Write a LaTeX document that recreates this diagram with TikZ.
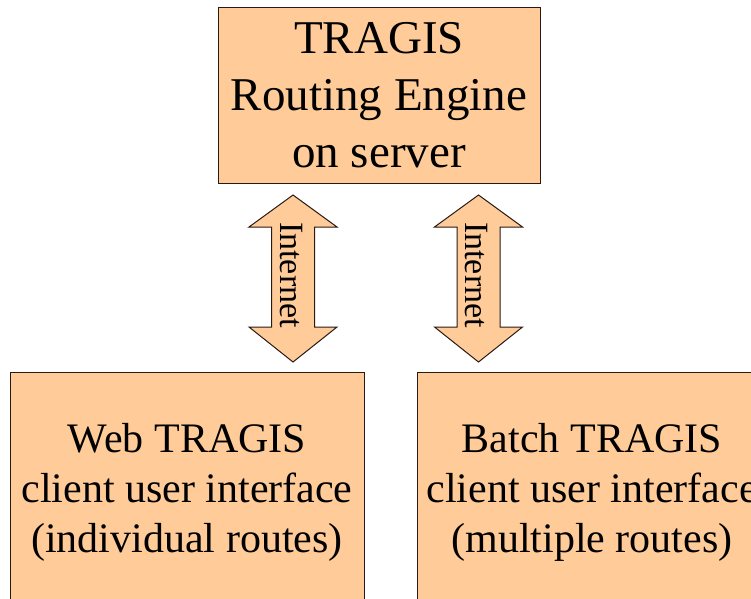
\documentclass[tikz,border=0pt]{standalone}
\usepackage{fontspec}
\setmainfont{Liberation Serif}
\definecolor{peach}{HTML}{FFCC99}
\definecolor{edge}{HTML}{2A1A14}
\tikzset{
  box/.style={draw=edge, line width=1pt, fill=peach, inner sep=0pt, align=center, text=black},
  arrowfill/.style={draw=edge, line width=1pt, fill=peach, line join=miter},
  arrowtext/.style={inner sep=0pt, rotate=-90, font=\fontsize{34}{40}\selectfont},
  internetarrow/.pic={
    \draw[arrowfill] (0,0) -- (44,-32) -- (21.5,-32) -- (21.5,-132) -- (44,-132) -- (0,-167)
      -- (-44,-132) -- (-21.5,-132) -- (-21.5,-32) -- (-44,-32) -- cycle;
    \node[arrowtext] (-label) at (-2,-80) {Internet};
  }
}
\begin{document}
\begin{tikzpicture}[x=1pt,y=1pt]
\useasboundingbox (0,0) rectangle (751,-598);
\clip (0,0) rectangle (751,-598);
\fill[white] (0,0) rectangle (751,-598);
\node[box, minimum width=322pt, minimum height=176pt, font=\fontsize{47}{57}\selectfont]
  (engine) at (379,-95) {TRAGIS\\Routing Engine\\on server};
\node[box, minimum width=354pt, minimum height=240pt, font=\fontsize{42}{50}\selectfont]
  (web) at (187,-492) {Web TRAGIS\\client user interface\\(individual routes)};
\node[box, minimum width=350pt, minimum height=240pt, font=\fontsize{42}{50}\selectfont]
  (batch) at (592,-492) {Batch TRAGIS\\client user interface\\(multiple routes)};
\pic (inetA) at (293,-195) {internetarrow};
\pic (inetB) at (478.5,-195) {internetarrow};
\end{tikzpicture}
\end{document}
